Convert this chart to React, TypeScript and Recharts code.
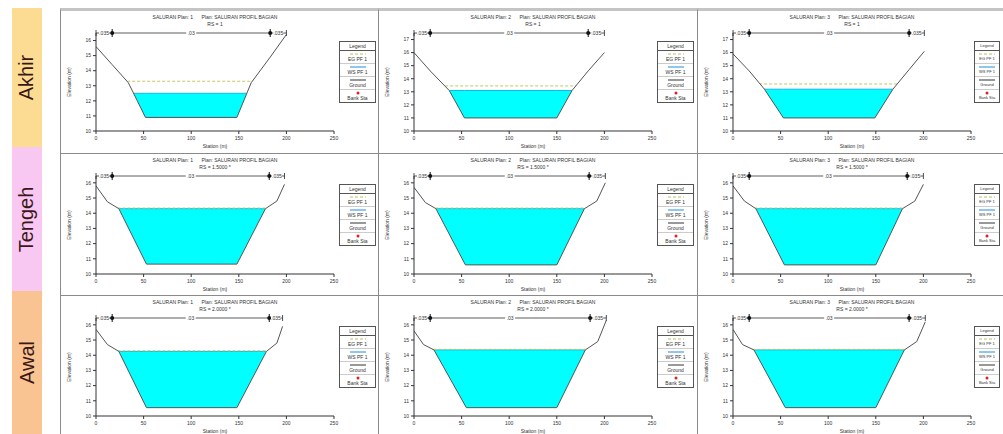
import React from "react";
import {
  ComposedChart,
  Area,
  XAxis,
  YAxis,
  ReferenceLine,
  ReferenceDot,
} from "recharts";

const rowLabels = ["Akhir", "Tengeh", "Awal"];
const rowColors = ["#fcdc92", "#f8c8f2", "#f9c392"];
const xTicks = [0, 50, 100, 150, 200, 250];
const legendItems = ["EG PF 1", "WS PF 1", "Ground", "Bank Sta"];
const colTitles = [
  "SALURAN Plan: 1      Plan: SALURAN PROFIL BAGIAN",
  "SALURAN Plan: 2      Plan: SALURAN PROFIL BAGIAN",
  "SALURAN Plan: 3      Plan: SALURAN PROFIL BAGIAN",
];
const rowRs = ["RS = 1", "RS = 1.5000 *", "RS = 2.0000 *"];
const nLabels = [".035", ".03", ".035"];

// Akhir (downstream)
const akhir1Sta = [0, 17, 34, 52, 148, 163, 183, 200];
const akhir1Elev = [15.6, 14.4, 13.2, 10.9, 10.9, 13.2, 14.9, 16.4];
const akhir2Sta = [0, 17, 37, 53, 150, 166, 183, 200];
const akhir2Elev = [16.0, 14.6, 13.1, 11.0, 11.0, 13.1, 14.6, 16.0];
const akhir3Sta = [0, 17, 33, 53, 149, 168, 185, 201];
const akhir3Elev = [15.9, 14.6, 13.2, 11.0, 11.0, 13.2, 14.7, 16.1];
const akhirWs = [12.5, 13.1, 13.2];
const akhirEg = [13.3, 13.45, 13.6];
const akhirBank = [
  [17, 183],
  [17, 183],
  [17, 185],
];
const akhirTicks = [
  [10, 11, 12, 13, 14, 15, 16],
  [10, 11, 12, 13, 14, 15, 16, 17],
  [10, 11, 12, 13, 14, 15, 16, 17],
];
const akhirTop = [16.5, 17.5, 17.5];

// Tengeh (middle)
const tengeh1Sta = [0, 12, 24, 53, 148, 178, 190, 198];
const tengeh1Elev = [15.8, 14.75, 14.3, 10.65, 10.65, 14.3, 14.8, 15.9];
const tengeh2Sta = [0, 12, 23, 54, 150, 179, 192, 201];
const tengeh2Elev = [15.7, 14.7, 14.3, 10.6, 10.6, 14.3, 14.8, 16.0];
const tengeh3Sta = [0, 12, 24, 54, 150, 178, 191, 200];
const tengeh3Elev = [15.8, 14.8, 14.3, 10.6, 10.6, 14.3, 14.8, 15.9];
const tengehWs = [14.3, 14.3, 14.3];
const tengehEg = [14.34, 14.34, 14.34];
const tengehBank = [
  [17, 182],
  [17, 184],
  [17, 183],
];

// Awal (upstream)
const awal1Sta = [0, 12, 24, 53, 148, 179, 190, 196];
const awal1Elev = [15.7, 14.7, 14.25, 10.55, 10.55, 14.25, 14.8, 15.9];
const awal2Sta = [0, 10, 21, 55, 150, 180, 193, 202];
const awal2Elev = [15.6, 14.7, 14.35, 10.55, 10.55, 14.35, 14.9, 16.3];
const awal3Sta = [0, 10, 22, 55, 150, 180, 193, 202];
const awal3Elev = [15.7, 14.7, 14.35, 10.55, 10.55, 14.35, 14.9, 16.2];
const awalWs = [14.25, 14.35, 14.35];
const awalEg = [14.29, 14.39, 14.39];
const awalBank = [
  [17, 182],
  [17, 185],
  [17, 185],
];

const lowerTicks = [10, 11, 12, 13, 14, 15, 16];
const lowerTop = 16.45;

const panels = [
  [
    { sta: akhir1Sta, elev: akhir1Elev, ws: akhirWs[0], eg: akhirEg[0], bank: akhirBank[0], ticks: akhirTicks[0], top: akhirTop[0] },
    { sta: akhir2Sta, elev: akhir2Elev, ws: akhirWs[1], eg: akhirEg[1], bank: akhirBank[1], ticks: akhirTicks[1], top: akhirTop[1] },
    { sta: akhir3Sta, elev: akhir3Elev, ws: akhirWs[2], eg: akhirEg[2], bank: akhirBank[2], ticks: akhirTicks[2], top: akhirTop[2] },
  ],
  [
    { sta: tengeh1Sta, elev: tengeh1Elev, ws: tengehWs[0], eg: tengehEg[0], bank: tengehBank[0], ticks: lowerTicks, top: lowerTop },
    { sta: tengeh2Sta, elev: tengeh2Elev, ws: tengehWs[1], eg: tengehEg[1], bank: tengehBank[1], ticks: lowerTicks, top: lowerTop },
    { sta: tengeh3Sta, elev: tengeh3Elev, ws: tengehWs[2], eg: tengehEg[2], bank: tengehBank[2], ticks: lowerTicks, top: lowerTop },
  ],
  [
    { sta: awal1Sta, elev: awal1Elev, ws: awalWs[0], eg: awalEg[0], bank: awalBank[0], ticks: lowerTicks, top: lowerTop },
    { sta: awal2Sta, elev: awal2Elev, ws: awalWs[1], eg: awalEg[1], bank: awalBank[1], ticks: lowerTicks, top: lowerTop },
    { sta: awal3Sta, elev: awal3Elev, ws: awalWs[2], eg: awalEg[2], bank: awalBank[2], ticks: lowerTicks, top: lowerTop },
  ],
];

const colLeft = [60, 378, 697];
const colWidth = [318, 319, 310];
const rowTop = [8, 153, 295];
const rowHeight = [145, 142, 139];

const tiny = { fontSize: 5, fill: "#333" };

function EndTick(props: any) {
  const { cx, cy } = props;
  return <line x1={cx} x2={cx} y1={cy - 3} y2={cy + 3} stroke="#222" strokeWidth={0.8} />;
}

function BankMark(props: any) {
  const { cx, cy } = props;
  return (
    <g>
      <line x1={cx} x2={cx} y1={cy - 4} y2={cy + 4} stroke="#111" strokeWidth={1} />
      <circle cx={cx} cy={cy} r={2} fill="#111" />
    </g>
  );
}

function NLabel(text: string) {
  return (props: any) => {
    const { cx, cy } = props;
    return (
      <g>
        <rect x={cx - 5} y={cy - 3} width={10} height={6} fill="#fff" />
        <text x={cx} y={cy + 2} textAnchor="middle" fontSize={5} fill="#333">
          {text}
        </text>
      </g>
    );
  };
}

function Legend({ narrow }: { narrow: boolean }) {
  const w = narrow ? 24 : 35;
  const sample = (i: number) => {
    if (i === 0)
      return <line x1={2} x2={18} y1={2} y2={2} stroke="#b8c45a" strokeDasharray="3 2" />;
    if (i === 1) return <line x1={2} x2={18} y1={2} y2={2} stroke="#1c8fe0" />;
    if (i === 2) return <line x1={2} x2={18} y1={2} y2={2} stroke="#333" />;
    return <circle cx={10} cy={2} r={1.5} fill="#e02020" />;
  };
  return (
    <div
      style={{
        position: "absolute",
        left: narrow ? 276 : 278,
        top: 30,
        width: w,
        border: "1px solid #555",
        background: "#fff",
        fontSize: narrow ? 4 : 5,
        lineHeight: "6px",
        color: "#333",
        textAlign: "center",
        whiteSpace: "nowrap",
      }}
    >
      <div style={{ borderBottom: "1px solid #555", padding: "1px 0" }}>Legend</div>
      {legendItems.map((t, i) => (
        <div key={t} style={{ borderBottom: i < 3 ? "1px solid #ccc" : "none", padding: "1px 0" }}>
          <svg width={20} height={4} style={{ display: "block", margin: "0 auto" }}>
            {sample(i)}
          </svg>
          {t}
        </div>
      ))}
    </div>
  );
}

function Panel({ r, c }: { r: number; c: number }) {
  const p = panels[r][c];
  const n = p.sta.length;
  // water surface and energy grade only over the inner points; the ground fill masks the rest
  const data = p.sta.map((s, i) => ({
    sta: s,
    elev: p.elev[i],
    ws: i > 0 && i < n - 1 ? p.ws : null,
    eg: i > 0 && i < n - 1 ? p.eg : null,
  }));
  const yMin = p.ticks[0];
  const first = p.sta[0];
  const last = p.sta[n - 1];
  const [bankL, bankR] = p.bank;
  return (
    <div
      style={{
        position: "absolute",
        left: colLeft[c],
        top: rowTop[r],
        width: colWidth[c],
        height: rowHeight[r],
        borderLeft: "1px solid #8a8a8a",
        borderTop: r === 0 ? "3px solid #c4c4c4" : "1px solid #8a8a8a",
        background: "#fff",
        overflow: "hidden",
      }}
    >
      <div
        style={{
          position: "absolute",
          left: 34,
          width: 240,
          top: 3,
          textAlign: "center",
          fontSize: 5,
          lineHeight: "7px",
          color: "#333",
          whiteSpace: "pre",
        }}
      >
        {colTitles[c]}
        <br />
        {rowRs[r]}
      </div>
      <div
        style={{
          position: "absolute",
          left: -22,
          top: 68,
          width: 60,
          textAlign: "center",
          fontSize: 5,
          color: "#333",
          transform: "rotate(-90deg)",
        }}
      >
        Elevation (m)
      </div>
      <div
        style={{
          position: "absolute",
          left: 134,
          top: 132,
          width: 40,
          textAlign: "center",
          fontSize: 5,
          color: "#333",
        }}
      >
        Station (m)
      </div>
      <div style={{ position: "absolute", left: 0, top: 0 }}>
        <ComposedChart
          width={280}
          height={140}
          data={data}
          margin={{ top: 22, right: 7, left: 5, bottom: 0 }}
        >
          <Area
            type="linear"
            dataKey="ws"
            stroke="#19b5e6"
            strokeWidth={1}
            fill="#00ffff"
            fillOpacity={1}
            baseValue={yMin}
            connectNulls={false}
            isAnimationActive={false}
          />
          <Area
            type="linear"
            dataKey="eg"
            stroke="#bfc95e"
            strokeWidth={1}
            strokeDasharray="3 2"
            fill="none"
            baseValue={yMin}
            isAnimationActive={false}
          />
          <Area
            type="linear"
            dataKey="elev"
            stroke="#555"
            strokeWidth={1}
            fill="#ffffff"
            fillOpacity={1}
            baseValue={yMin}
            isAnimationActive={false}
          />
          <ReferenceLine
            segment={[
              { x: first, y: p.top },
              { x: last, y: p.top },
            ]}
            stroke="#333"
            strokeWidth={0.8}
            ifOverflow="visible"
          />
          <ReferenceDot x={first} y={p.top} ifOverflow="visible" shape={EndTick} />
          <ReferenceDot x={last} y={p.top} ifOverflow="visible" shape={EndTick} />
          <ReferenceDot x={bankL} y={p.top} ifOverflow="visible" shape={BankMark} />
          <ReferenceDot x={bankR} y={p.top} ifOverflow="visible" shape={BankMark} />
          <ReferenceDot x={(first + bankL) / 2} y={p.top} ifOverflow="visible" shape={NLabel(nLabels[0])} />
          <ReferenceDot x={(bankL + bankR) / 2} y={p.top} ifOverflow="visible" shape={NLabel(nLabels[1])} />
          <ReferenceDot x={(bankR + last) / 2} y={p.top} ifOverflow="visible" shape={NLabel(nLabels[2])} />
          <XAxis
            type="number"
            dataKey="sta"
            domain={[0, 250]}
            ticks={xTicks}
            height={20}
            tick={tiny}
            tickSize={3}
            stroke="#333"
            allowDataOverflow
          />
          <YAxis
            type="number"
            domain={[yMin, p.top]}
            ticks={p.ticks}
            width={30}
            tick={tiny}
            tickSize={3}
            stroke="#333"
            allowDataOverflow
          />
        </ComposedChart>
      </div>
      <Legend narrow={c === 2} />
    </div>
  );
}

export default function App() {
  const bandTop = [8, 147, 291];
  const bandHeight = [139, 144, 143];
  return (
    <div
      style={{
        position: "absolute",
        left: 0,
        top: 0,
        width: 1003,
        height: 434,
        background: "#fff",
        overflow: "hidden",
        fontFamily: "'Liberation Sans', Arial, sans-serif",
      }}
    >
      {rowLabels.map((label, i) => (
        <div
          key={label}
          style={{
            position: "absolute",
            left: 12,
            top: bandTop[i],
            width: 30,
            height: bandHeight[i],
            background: rowColors[i],
            display: "flex",
            alignItems: "center",
            justifyContent: "center",
          }}
        >
          <div
            style={{
              transform: "rotate(-90deg)",
              fontSize: 20,
              color: "#3a1818",
              whiteSpace: "nowrap",
            }}
          >
            {label}
          </div>
        </div>
      ))}
      {panels.map((row, r) =>
        row.map((_, c) => <Panel key={`${r}-${c}`} r={r} c={c} />)
      )}
    </div>
  );
}
